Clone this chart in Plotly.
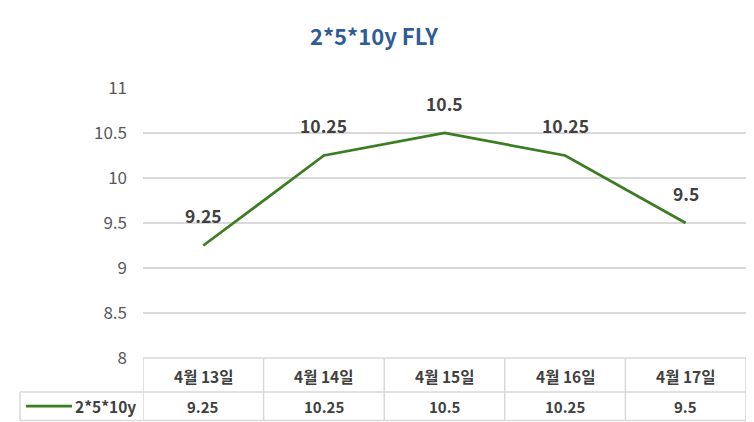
import plotly.graph_objects as go

categories = ["4월 13일", "4월 14일", "4월 15일", "4월 16일", "4월 17일"]
values = [9.25, 10.25, 10.5, 10.25, 9.5]
value_labels = ["9.25", "10.25", "10.5", "10.25", "9.5"]
series_name = "2*5*10y"
y_ticks = [8, 8.5, 9, 9.5, 10, 10.5, 11]
y_tick_labels = ["8", "8.5", "9", "9.5", "10", "10.5", "11"]

# page body has an 8px margin; design in screenshot pixels and shift
OFF = 8
W, H = 754 - OFF, 422 - OFF
ML, MR, MT, MB = 143 - OFF, 8, 88 - OFF, 422 - 358
PH = H - MT - MB
PW = W - ML - MR

def py(p):
    return (358 - p) / PH

def px(p):
    return (p - 143) / PW

FONT = "Noto Sans CJK KR, Malgun Gothic, sans-serif"
GREEN = "#3b7d23"
TXT = "#404040"
GRID = "#d9d9d9"

xs = list(range(len(categories)))

fig = go.Figure()
fig.add_trace(go.Scatter(x=xs, y=values, mode="lines",
                         line=dict(color=GREEN, width=2.75), hoverinfo="skip",
                         showlegend=False))

ann = []
for x, v, t in zip(xs, values, value_labels):
    ann.append(dict(x=x, y=v, text=t, showarrow=False, yshift=30,
                    font=dict(family=FONT, size=17.5, color=TXT, weight="bold")))

shapes = []
row1_top, row1_bot, row2_bot = py(358), py(392), py(420.5)
legend_left = px(20)
shapes.append(dict(type="line", xref="x", yref="paper", x0=-0.5, x1=len(categories) - 0.5,
                   y0=row1_top, y1=row1_top, line=dict(color=GRID, width=1.5)))
for yy in (row1_bot, row2_bot):
    shapes.append(dict(type="line", xref="paper", yref="paper", x0=legend_left, x1=1,
                       y0=yy, y1=yy, line=dict(color=GRID, width=1.5)))
for i in range(len(categories) + 1):
    shapes.append(dict(type="line", xref="x", yref="paper", x0=i - 0.5, x1=i - 0.5,
                       y0=row1_top, y1=row2_bot, line=dict(color=GRID, width=1.5)))
shapes.append(dict(type="line", xref="paper", yref="paper", x0=legend_left, x1=legend_left,
                   y0=row1_bot, y1=row2_bot, line=dict(color=GRID, width=1.5)))
# legend line
shapes.append(dict(type="line", xref="paper", yref="paper", x0=px(26), x1=px(72),
                   y0=py(406), y1=py(406), line=dict(color=GREEN, width=2.75)))

for x, c, t in zip(xs, categories, value_labels):
    ann.append(dict(x=x, xref="x", y=py(375.5), yref="paper", yanchor="middle",
                    xanchor="center", text=c, showarrow=False,
                    font=dict(family=FONT, size=15.5, color=TXT, weight="bold")))
    ann.append(dict(x=x, xref="x", y=py(406), yref="paper", yanchor="middle",
                    xanchor="center", text=t, showarrow=False,
                    font=dict(family=FONT, size=15, color=TXT, weight="bold")))
ann.append(dict(x=px(138), xref="paper", xanchor="right", y=py(406), yref="paper",
                yanchor="middle", text=series_name, showarrow=False,
                font=dict(family=FONT, size=15.5, color=TXT, weight="bold")))

fig.update_layout(
    width=W, height=H,
    margin=dict(l=ML, r=MR, t=MT, b=MB),
    paper_bgcolor="white", plot_bgcolor="white",
    title=dict(text="2*5*10y FLY", x=px(374), xanchor="center",
               y=1 - (37 - OFF) / H, yanchor="middle", xref="paper",
               font=dict(family=FONT, size=22, color="#2e5c96", weight="bold")),
    xaxis=dict(range=[-0.5, len(categories) - 0.5], showgrid=False, zeroline=False,
               showticklabels=False, showline=False, fixedrange=True),
    yaxis=dict(range=[8, 11], tickvals=y_ticks, ticktext=y_tick_labels,
               showgrid=True, gridcolor=GRID, gridwidth=1.5, zeroline=False, showline=False,
               tickfont=dict(family=FONT, size=17, color="#595959"),
               ticklabelstandoff=15, fixedrange=True),
    annotations=ann, shapes=shapes, showlegend=False,
)

fig.write_html("out.html")
